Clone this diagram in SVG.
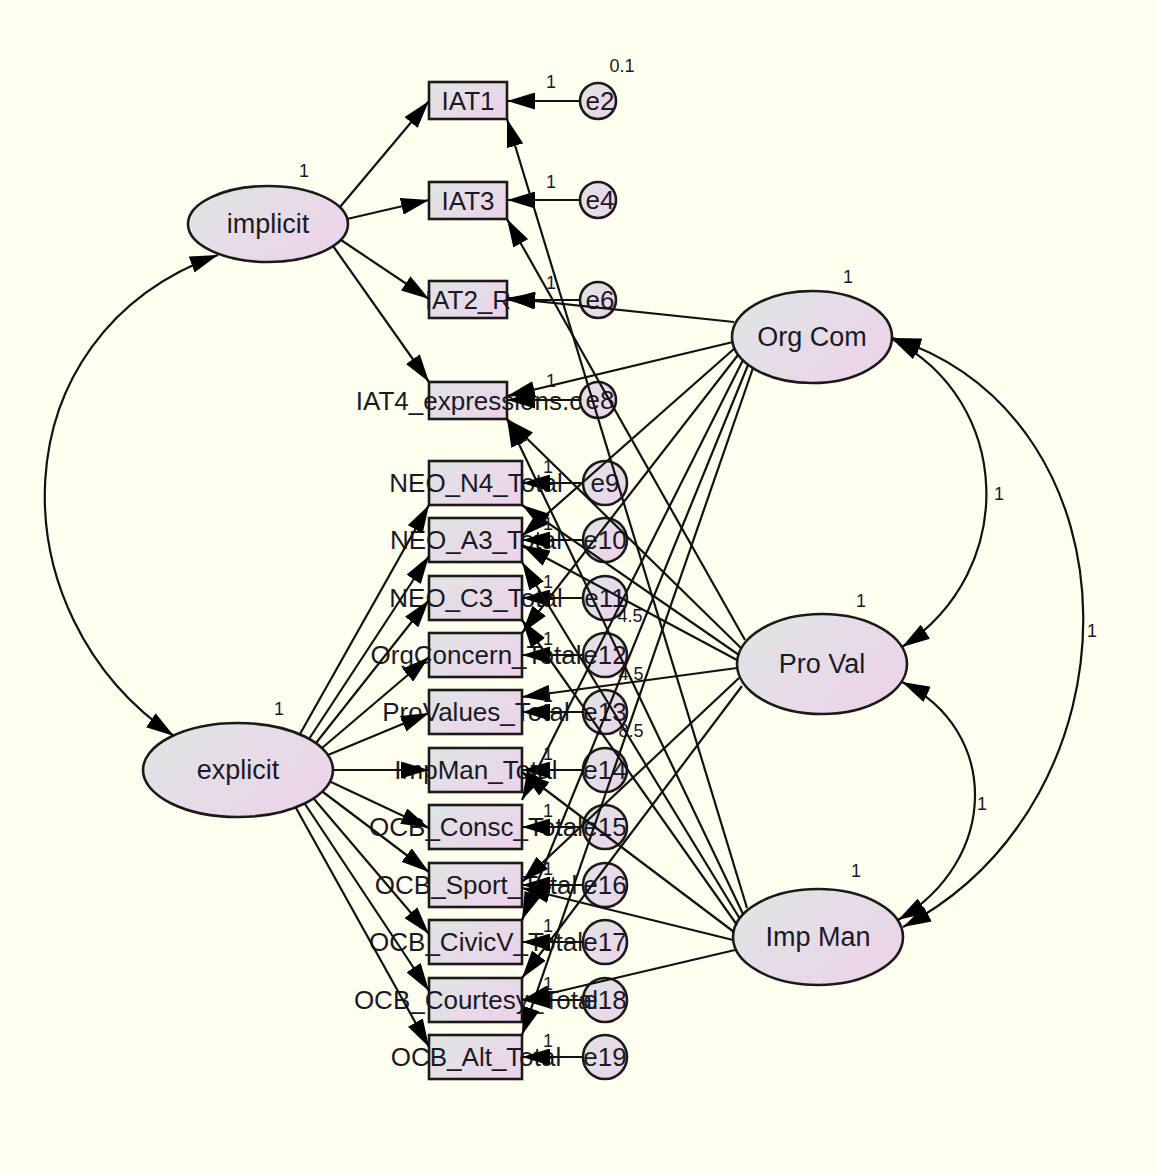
<svg xmlns="http://www.w3.org/2000/svg" width="1157" height="1175" viewBox="0 0 1157 1175">
<style>
text{font-family:"Liberation Sans",Arial,sans-serif;fill:#1a1a26}
.bx{font-size:26px;text-anchor:middle}
.el{font-size:27px;text-anchor:middle}
.er{font-size:26px;text-anchor:middle}
.sm{font-size:18px;text-anchor:middle}
.shape{fill:url(#g);stroke:#1a1a1a;stroke-width:2.6}
.cn line,.cn path{stroke:#111;stroke-width:2.2;fill:none;marker-end:url(#ah)}
.cn path.cov{marker-start:url(#ah)}
</style>
<defs>
<linearGradient id="g" x1="0" y1="0.2" x2="1" y2="0.8">
<stop offset="0" stop-color="#e0e4e4"/>
<stop offset="1" stop-color="#ecd3ea"/>
</linearGradient>
<marker id="ah" viewBox="0 0 28 17" refX="28" refY="8.5" markerWidth="28" markerHeight="17" markerUnits="userSpaceOnUse" orient="auto-start-reverse">
<path d="M0,0 L28,8.5 L0,17 z" fill="#000"/>
</marker>
</defs>
<rect width="1157" height="1175" fill="#fffff0"/>

<!-- error terms -->
<g id="e2"><circle class="shape" cx="598" cy="101" r="18"/><text class="er" x="600" y="110">e2</text><text class="sm" x="622" y="72">0.1</text></g>
<g id="e4"><circle class="shape" cx="598" cy="200" r="18"/><text class="er" x="600" y="209">e4</text></g>
<g id="e6"><circle class="shape" cx="598" cy="300" r="18"/><text class="er" x="600" y="309">e6</text></g>
<g id="e8"><circle class="shape" cx="598" cy="400" r="18"/><text class="er" x="600" y="409">e8</text></g>
<g id="e9"><circle class="shape" cx="605" cy="483" r="22"/><text class="er" x="605" y="492">e9</text></g>
<g id="e10"><circle class="shape" cx="605" cy="540" r="22"/><text class="er" x="605" y="549">e10</text></g>
<g id="e11"><text class="sm" x="630" y="622">4.5</text><circle class="shape" cx="605" cy="598" r="22"/><text class="er" x="605" y="607">e11</text></g>
<g id="e12"><text class="sm" x="631" y="680">4.5</text><circle class="shape" cx="605" cy="655" r="22"/><text class="er" x="605" y="664">e12</text></g>
<g id="e13"><text class="sm" x="631" y="737">8.5</text><circle class="shape" cx="605" cy="712" r="22"/><text class="er" x="605" y="721">e13</text></g>
<g id="e14"><circle class="shape" cx="605" cy="770" r="22"/><text class="er" x="605" y="779">e14</text></g>
<g id="e15"><circle class="shape" cx="605" cy="827" r="22"/><text class="er" x="605" y="836">e15</text></g>
<g id="e16"><circle class="shape" cx="605" cy="885" r="22"/><text class="er" x="605" y="894">e16</text></g>
<g id="e17"><circle class="shape" cx="605" cy="942" r="22"/><text class="er" x="605" y="951">e17</text></g>
<g id="e18"><circle class="shape" cx="605" cy="1000" r="22"/><text class="er" x="605" y="1009">e18</text></g>
<g id="e19"><circle class="shape" cx="605" cy="1057" r="22"/><text class="er" x="605" y="1066">e19</text></g>

<!-- observed variables -->
<g id="IAT1"><rect class="shape" x="429" y="82" width="78" height="37"/><text class="bx" x="468" y="110">IAT1</text></g>
<g id="IAT3"><rect class="shape" x="429" y="182" width="78" height="37"/><text class="bx" x="468" y="210">IAT3</text></g>
<g id="IAT2_R"><rect class="shape" x="429" y="281" width="78" height="37"/><text class="bx" x="468" y="309">IAT2_R</text></g>
<g id="IAT4"><rect class="shape" x="429" y="382" width="78" height="37"/><text class="bx" x="469" y="410">IAT4_expressions.c</text></g>
<g id="NEO_N4"><rect class="shape" x="429" y="461" width="93" height="44"/><text class="bx" x="476" y="492">NEO_N4_Total</text></g>
<g id="NEO_A3"><rect class="shape" x="429" y="518" width="93" height="44"/><text class="bx" x="476" y="549">NEO_A3_Total</text></g>
<g id="NEO_C3"><rect class="shape" x="429" y="576" width="93" height="44"/><text class="bx" x="476" y="607">NEO_C3_Total</text></g>
<g id="OrgConcern"><rect class="shape" x="429" y="633" width="93" height="44"/><text class="bx" x="476" y="664">OrgConcern_Total</text></g>
<g id="ProValues"><rect class="shape" x="429" y="690" width="93" height="44"/><text class="bx" x="476" y="721">ProValues_Total</text></g>
<g id="ImpMan"><rect class="shape" x="429" y="748" width="93" height="44"/><text class="bx" x="476" y="779">ImpMan_Total</text></g>
<g id="OCB_Consc"><rect class="shape" x="429" y="805" width="93" height="44"/><text class="bx" x="476" y="836">OCB_Consc_Total</text></g>
<g id="OCB_Sport"><rect class="shape" x="429" y="863" width="93" height="44"/><text class="bx" x="476" y="894">OCB_Sport_Total</text></g>
<g id="OCB_CivicV"><rect class="shape" x="429" y="920" width="93" height="44"/><text class="bx" x="476" y="951">OCB_CivicV_Total</text></g>
<g id="OCB_Courtesy"><rect class="shape" x="429" y="978" width="93" height="44"/><text class="bx" x="476" y="1009">OCB_Courtesy_Total</text></g>
<g id="OCB_Alt"><rect class="shape" x="429" y="1035" width="93" height="44"/><text class="bx" x="476" y="1066">OCB_Alt_Total</text></g>

<!-- latent variables -->
<g id="implicit"><ellipse class="shape" cx="268" cy="224" rx="80" ry="38"/><text class="el" x="268" y="233">implicit</text><text class="sm" x="304" y="177">1</text></g>
<g id="explicit"><ellipse class="shape" cx="238" cy="770" rx="95" ry="47"/><text class="el" x="238" y="779">explicit</text><text class="sm" x="279" y="715">1</text></g>
<g id="OrgCom"><ellipse class="shape" cx="812" cy="337" rx="80" ry="46"/><text class="el" x="812" y="346">Org Com</text><text class="sm" x="848" y="283">1</text></g>
<g id="ProVal"><ellipse class="shape" cx="822" cy="664" rx="85" ry="50"/><text class="el" x="822" y="673">Pro Val</text><text class="sm" x="861" y="607">1</text></g>
<g id="ImpManF"><ellipse class="shape" cx="818" cy="937" rx="85" ry="48"/><text class="el" x="818" y="946">Imp Man</text><text class="sm" x="856" y="877">1</text></g>

<g id="connectors" class="cn">
<!-- implicit loadings -->
<line x1="340" y1="207" x2="429" y2="101"/>
<line x1="347" y1="219" x2="429" y2="200"/>
<line x1="341" y1="240" x2="429" y2="299"/>
<line x1="333" y1="246" x2="429" y2="382"/>
<!-- explicit loadings -->
<line x1="300" y1="734" x2="429" y2="505"/>
<line x1="309" y1="739" x2="429" y2="556"/>
<line x1="316" y1="743" x2="429" y2="600"/>
<line x1="322" y1="748" x2="429" y2="657"/>
<line x1="328" y1="755" x2="429" y2="713"/>
<line x1="333" y1="770" x2="429" y2="770"/>
<line x1="331" y1="782" x2="429" y2="828"/>
<line x1="323" y1="792" x2="429" y2="872"/>
<line x1="314" y1="799" x2="429" y2="934"/>
<line x1="305" y1="804" x2="429" y2="991"/>
<line x1="296" y1="808" x2="429" y2="1047"/>
<!-- error paths -->
<line x1="580" y1="101" x2="507" y2="101"/>
<line x1="580" y1="200" x2="507" y2="200"/>
<line x1="580" y1="300" x2="507" y2="300"/>
<line x1="580" y1="400" x2="507" y2="400"/>
<line x1="583" y1="483" x2="522" y2="483"/>
<line x1="583" y1="540" x2="522" y2="540"/>
<line x1="583" y1="598" x2="522" y2="598"/>
<line x1="583" y1="655" x2="522" y2="655"/>
<line x1="583" y1="712" x2="522" y2="712"/>
<line x1="583" y1="770" x2="522" y2="770"/>
<line x1="583" y1="827" x2="522" y2="827"/>
<line x1="583" y1="885" x2="522" y2="885"/>
<line x1="583" y1="942" x2="522" y2="942"/>
<line x1="583" y1="1000" x2="522" y2="1000"/>
<line x1="583" y1="1057" x2="522" y2="1057"/>
<!-- Org Com loadings -->
<line x1="734" y1="322" x2="507" y2="298"/>
<line x1="733" y1="342" x2="507" y2="396"/>
<line x1="735" y1="348" x2="522" y2="536"/>
<line x1="738" y1="355" x2="522" y2="633"/>
<line x1="743" y1="360" x2="522" y2="800"/>
<line x1="748" y1="365" x2="522" y2="920"/>
<line x1="753" y1="368" x2="522" y2="1035"/>
<!-- Pro Val loadings -->
<line x1="745" y1="640" x2="507" y2="219"/>
<line x1="741" y1="648" x2="507" y2="419"/>
<line x1="739" y1="655" x2="522" y2="505"/>
<line x1="737" y1="660" x2="522" y2="545"/>
<line x1="737" y1="668" x2="522" y2="697"/>
<line x1="739" y1="678" x2="522" y2="882"/>
<line x1="742" y1="686" x2="522" y2="978"/>
<!-- Imp Man loadings -->
<line x1="747" y1="908" x2="507" y2="119"/>
<line x1="743" y1="914" x2="507" y2="419"/>
<line x1="740" y1="919" x2="522" y2="562"/>
<line x1="737" y1="925" x2="522" y2="620"/>
<line x1="734" y1="932" x2="522" y2="772"/>
<line x1="733" y1="940" x2="522" y2="888"/>
<line x1="735" y1="950" x2="522" y2="1000"/>
<!-- covariances -->
<path class="cov" d="M218,255 C-5,335 -5,615 174,736"/>
<path class="cov" d="M892,339 C1012,400 1020,570 902,647"/>
<path class="cov" d="M902,682 C1000,730 1000,860 898,920"/>
<path class="cov" d="M893,338 C1145,420 1145,800 903,927"/>
<!-- labels -->
<text class="sm" x="999" y="500">1</text>
<text class="sm" x="982" y="810">1</text>
<text class="sm" x="1092" y="637">1</text>
<text class="sm" x="551" y="88">1</text>
<text class="sm" x="551" y="188">1</text>
<text class="sm" x="551" y="289">1</text>
<text class="sm" x="551" y="387">1</text>
<text class="sm" x="548" y="473">1</text>
<text class="sm" x="548" y="530">1</text>
<text class="sm" x="548" y="588">1</text>
<text class="sm" x="548" y="645">1</text>
<text class="sm" x="548" y="702">1</text>
<text class="sm" x="548" y="760">1</text>
<text class="sm" x="548" y="817">1</text>
<text class="sm" x="548" y="875">1</text>
<text class="sm" x="548" y="932">1</text>
<text class="sm" x="548" y="990">1</text>
<text class="sm" x="548" y="1047">1</text>
</g>
</svg>
